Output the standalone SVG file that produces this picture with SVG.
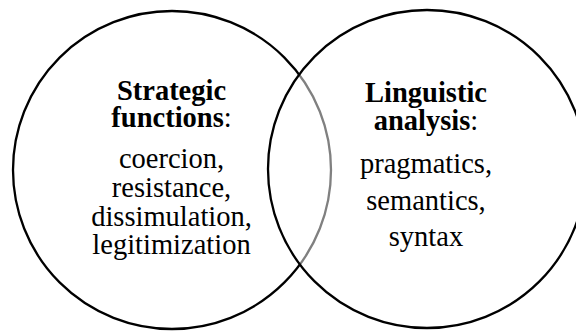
<svg xmlns="http://www.w3.org/2000/svg" width="576" height="332" viewBox="0 0 576 332">
  <style>
    .ring { stroke: #000; stroke-width: 2.3; }
    text { font-family: 'Liberation Serif', 'DejaVu Serif', 'Times New Roman', serif; font-size: 28.5px; fill: #000; text-anchor: middle; }
    .head { font-weight: bold; }
  </style>
  <rect width="576" height="332" fill="#fff"/>

  <!-- Left set: strategic functions -->
  <g id="strategic-functions" font-family="Liberation Serif, serif">
    <circle class="ring" cx="172" cy="170" r="159" fill="#fff"/>
    <text class="head" x="171.5" y="99.5">Strategic</text>
    <text x="171.5" y="127"><tspan class="head">functions</tspan>:</text>
    <text x="171.5" y="168">coercion,</text>
    <text x="171.5" y="197">resistance,</text>
    <text x="171.5" y="225.5">dissimulation,</text>
    <text x="171.5" y="254">legitimization</text>
  </g>

  <!-- Right set: half-transparent fill greys the left ring where they overlap -->
  <g id="linguistic-analysis" font-family="Liberation Serif, serif">
    <circle class="ring" cx="427" cy="169" r="159" fill="#fff" fill-opacity="0.5"/>
    <text class="head" x="426" y="102">Linguistic</text>
    <text x="426" y="130"><tspan class="head">analysis</tspan>:</text>
    <text x="426" y="172.5">pragmatics,</text>
    <text x="426" y="209.5">semantics,</text>
    <text x="426" y="246">syntax</text>
  </g>
</svg>
